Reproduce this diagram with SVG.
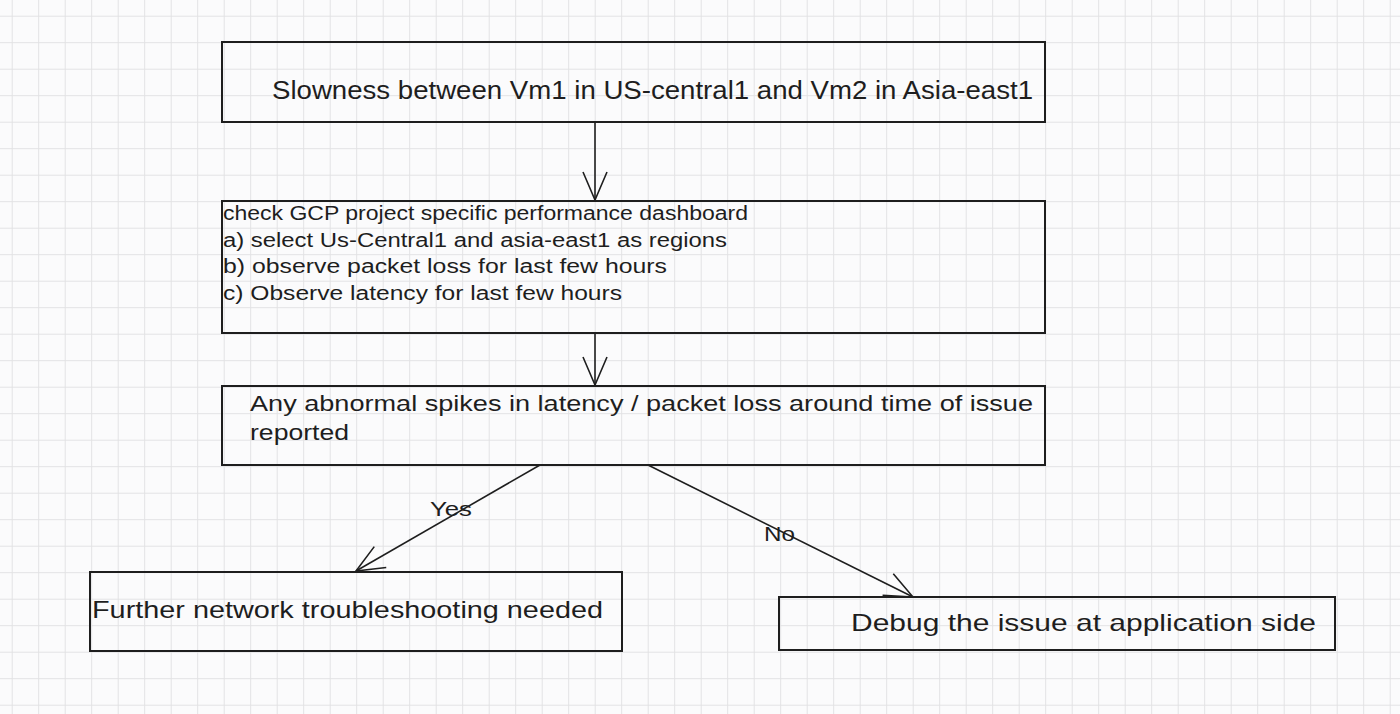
<svg xmlns="http://www.w3.org/2000/svg" width="1400" height="714" viewBox="0 0 1400 714">
<style>
.box{fill:none;stroke:#1e1e1e;stroke-width:2}
.t{font-family:"Liberation Sans",Arial,sans-serif;fill:#1e1e1e}
.c{fill:none;stroke:#1e1e1e;stroke-width:1.6}
</style>
<defs>
<pattern id="grid" x="11.7" y="15.7" width="26.5" height="26.5" patternUnits="userSpaceOnUse">
<path d="M0 0H26.5M0 0V26.5" fill="none" stroke="#e2e2e4" stroke-width="2"/>
</pattern>
<marker id="ah" markerUnits="userSpaceOnUse" markerWidth="40" markerHeight="40" refX="30" refY="15" orient="auto">
<path d="M2 3 L30 15 L2 27" fill="none" stroke="#1e1e1e" stroke-width="1.6"/>
</marker>
</defs>
<rect width="1400" height="714" fill="#fbfbfc"/>
<rect width="1400" height="714" fill="url(#grid)"/>
<g id="connectors">
<line class="c" x1="595" y1="122" x2="595" y2="200" marker-end="url(#ah)"/>
<line class="c" x1="595" y1="333" x2="595" y2="385" marker-end="url(#ah)"/>
<line class="c" x1="540" y1="465" x2="356" y2="571" marker-end="url(#ah)"/>
<line class="c" x1="648" y1="465" x2="913" y2="597" marker-end="url(#ah)"/>
<text class="t" x="430" y="516" font-size="20" textLength="42" lengthAdjust="spacingAndGlyphs">Yes</text>
<text class="t" x="764" y="541" font-size="20" textLength="31" lengthAdjust="spacingAndGlyphs">No</text>
</g>
<g id="n1">
<rect class="box" x="222" y="42" width="823" height="80"/>
<text class="t" x="272" y="99" font-size="25" textLength="761" lengthAdjust="spacingAndGlyphs">Slowness between Vm1 in US-central1 and Vm2 in Asia-east1</text>
</g>
<g id="n2">
<rect class="box" x="222" y="201" width="823" height="132"/>
<text class="t" x="223" y="220" font-size="20" textLength="525" lengthAdjust="spacingAndGlyphs">check GCP project specific performance dashboard</text>
<text class="t" x="223" y="247" font-size="20" textLength="504" lengthAdjust="spacingAndGlyphs">a) select Us-Central1 and asia-east1 as regions</text>
<text class="t" x="223" y="273" font-size="20" textLength="444" lengthAdjust="spacingAndGlyphs">b) observe packet loss for last few hours</text>
<text class="t" x="223" y="300" font-size="20" textLength="399" lengthAdjust="spacingAndGlyphs">c) Observe latency for last few hours</text>
</g>
<g id="n3">
<rect class="box" x="222" y="386" width="823" height="79"/>
<text class="t" x="250" y="411" font-size="22" textLength="783" lengthAdjust="spacingAndGlyphs">Any abnormal spikes in latency / packet loss around time of issue</text>
<text class="t" x="250" y="440" font-size="22" textLength="99" lengthAdjust="spacingAndGlyphs">reported</text>
</g>
<g id="n4">
<rect class="box" x="90" y="572" width="532" height="79"/>
<text class="t" x="92" y="618" font-size="24" textLength="511" lengthAdjust="spacingAndGlyphs">Further network troubleshooting needed</text>
</g>
<g id="n5">
<rect class="box" x="779" y="597" width="556" height="53"/>
<text class="t" x="851" y="631" font-size="24" textLength="465" lengthAdjust="spacingAndGlyphs">Debug the issue at application side</text>
</g>
</svg>
